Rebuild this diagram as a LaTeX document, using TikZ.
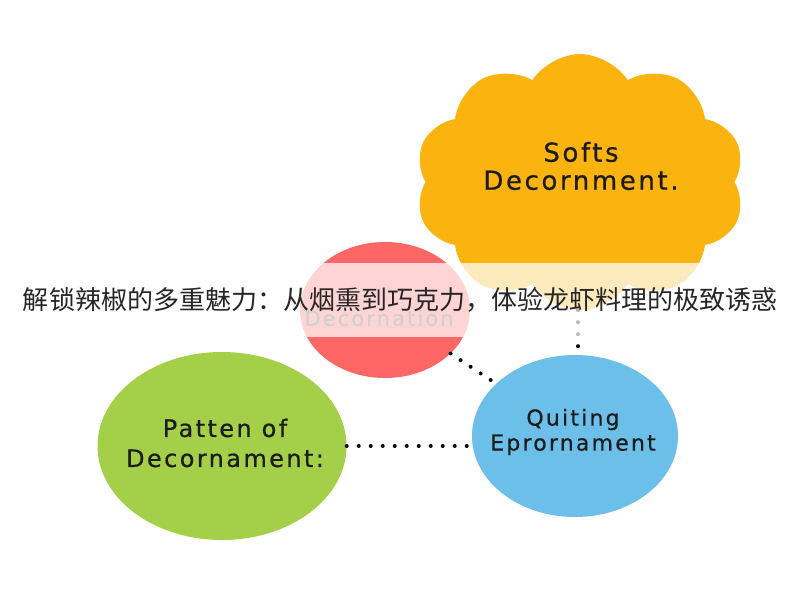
\documentclass[tikz,border=0pt]{standalone}
\usepackage{fontspec}
\setmainfont{DejaVu Sans}[LetterSpace=10,FakeBold=0.6]
\newfontfamily\cjk{Noto Sans CJK SC}
\usetikzlibrary{shapes.symbols,shapes.geometric}

\definecolor{softorange}{HTML}{FBB40F}
\definecolor{decored}{HTML}{FF6666}
\definecolor{pattgreen}{HTML}{A4CF48}
\definecolor{quitblue}{HTML}{6CBFE9}
\definecolor{labeltext}{HTML}{1C1C1C}

\begin{document}
\begin{tikzpicture}[x=1pt,y=-1pt,
    topic/.style={ellipse,inner sep=0pt},
    caption/.style={align=center,text=labeltext},
    dots/.style={line width=4pt,line cap=round,dash pattern=on 0pt off 12pt}]

\useasboundingbox[fill=white] (0,0) rectangle (800,600);

% the four topics
\node[cloud,cloud puffs=10,cloud puff arc=115,aspect=1.4,fill=softorange,
      minimum width=330pt,minimum height=256pt,inner sep=0pt]
      (softs) at (580,182) {};
\node[topic,fill=decored,minimum width=170pt,minimum height=136pt] (decor) at (385,310) {};
\node[topic,fill=pattgreen,minimum width=249pt,minimum height=188pt] (patten) at (222,446) {};
\node[topic,fill=quitblue,minimum width=206pt,minimum height=162pt] (quit) at (575,436) {};

\node[caption,font=\fontsize{26}{28}\selectfont]
    (softstext) at (581,166) {Softs\\Decornment.};
\node[text=black!65,font=\fontsize{21}{25}\selectfont]
    (decortext) at (379,318) {Decornation};
\node[caption,font=\fontsize{24}{30}\selectfont]
    (pattentext) at (225,443) {Patten of\\Decornament:};
\node[caption,font=\fontsize{22}{25}\selectfont]
    (quittext) at (573,432) {Quiting\\Eprornament};

% dotted links
\draw[dots] (decor) -- (quit);
\draw[dots] (patten.east) -- (patten.east -| quit.west);
\draw[dots] (softs.south -| 578,0) -- (quit.north -| 578,0);

% title band
\fill[white,opacity=0.72] (0,263) rectangle (800,337);
\node[text=black!85,font=\cjk\fontsize{26}{30}\selectfont] (title) at (400,300)
    {解锁辣椒的多重魅力：从烟熏到巧克力，体验龙虾料理的极致诱惑};

\end{tikzpicture}
\end{document}
